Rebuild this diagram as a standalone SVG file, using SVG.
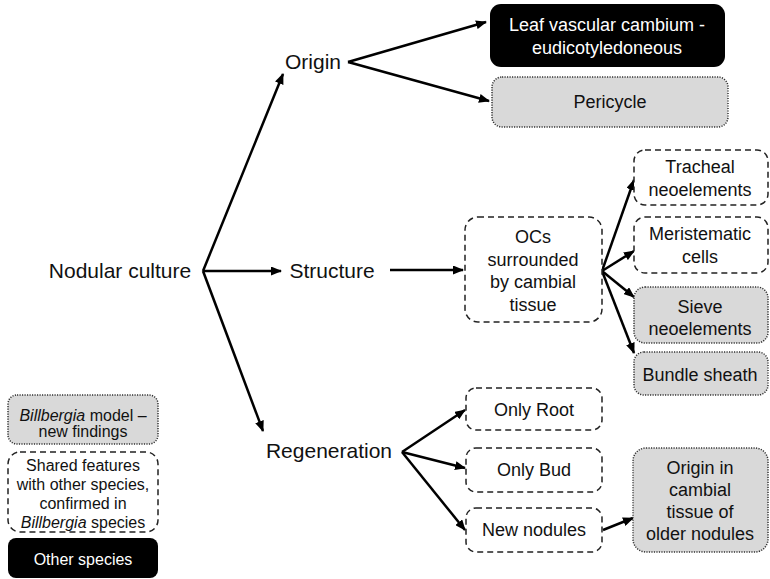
<svg xmlns="http://www.w3.org/2000/svg" width="770" height="579" viewBox="0 0 770 579">
<defs>
<marker id="ah" markerUnits="userSpaceOnUse" markerWidth="11" markerHeight="9" refX="10" refY="4.5" orient="auto">
<path d="M0,0 L11,4.5 L0,9 z" fill="#000"/>
</marker>
<style>
text{font-family:"Liberation Sans",Arial,sans-serif;fill:#111;text-anchor:middle}
.big{font-size:21px}
.n{font-size:18px}
.lg{font-size:16px}
.wt{fill:#fff}
.blk{fill:#000;stroke:none}
.dash{fill:#fff;stroke:#222;stroke-width:1.5;stroke-dasharray:6 4}
.dot{fill:#d9d9d9;stroke:#333;stroke-width:1.5;stroke-dasharray:1.2 1.3}
.c{fill:none;stroke:#000;stroke-width:2.5}
.a{marker-end:url(#ah)}
</style>
</defs>
<rect width="770" height="579" fill="#fff"/>

<g id="connectors">
<line class="c a" x1="203" y1="271" x2="283" y2="74"/>
<line class="c a" x1="203" y1="271" x2="281" y2="271"/>
<line class="c a" x1="203" y1="271" x2="263" y2="431"/>
<line class="c a" x1="348" y1="62" x2="486" y2="22"/>
<line class="c a" x1="348" y1="62" x2="489" y2="101"/>
<line class="c a" x1="390" y1="270" x2="463" y2="270"/>
<line class="c a" x1="602" y1="271" x2="634" y2="180"/>
<line class="c a" x1="602" y1="271" x2="634" y2="251"/>
<line class="c a" x1="602" y1="271" x2="634" y2="297"/>
<line class="c a" x1="602" y1="271" x2="634" y2="353"/>
<line class="c a" x1="402" y1="452" x2="465" y2="410"/>
<line class="c a" x1="402" y1="452" x2="465" y2="468"/>
<line class="c a" x1="402" y1="452" x2="465" y2="530"/>
<line class="c a" x1="603" y1="530" x2="633" y2="518"/>
</g>

<g id="nodular"><text class="big" x="120" y="278">Nodular culture</text></g>
<g id="origin"><text class="big" x="313" y="69">Origin</text></g>
<g id="structure"><text class="big" x="332" y="278">Structure</text></g>
<g id="regeneration"><text class="big" x="329" y="458">Regeneration</text></g>

<g id="leaf">
<rect class="blk" x="490" y="4" width="235" height="63" rx="11"/>
<text class="n wt" x="607" y="31">Leaf vascular cambium -</text>
<text class="n wt" x="607" y="54">eudicotyledoneous</text>
</g>
<g id="pericycle">
<rect class="dot" x="492" y="77" width="236" height="50" rx="10"/>
<text class="n" x="610" y="108">Pericycle</text>
</g>

<g id="ocs">
<rect class="dash" x="465" y="217" width="137" height="105" rx="13"/>
<text class="n" x="533" y="243">OCs</text>
<text class="n" x="533" y="266">surrounded</text>
<text class="n" x="533" y="288">by cambial</text>
<text class="n" x="533" y="311">tissue</text>
</g>

<g id="tracheal">
<rect class="dash" x="634" y="150" width="134" height="55" rx="11"/>
<text class="n" x="700" y="173">Tracheal</text>
<text class="n" x="700" y="196">neoelements</text>
</g>
<g id="meristematic">
<rect class="dash" x="634" y="217" width="134" height="56" rx="11"/>
<text class="n" x="700" y="240">Meristematic</text>
<text class="n" x="700" y="263">cells</text>
</g>
<g id="sieve">
<rect class="dot" x="634" y="287" width="134" height="56" rx="11"/>
<text class="n" x="700" y="313">Sieve</text>
<text class="n" x="700" y="335">neoelements</text>
</g>
<g id="bundle">
<rect class="dot" x="634" y="352" width="134" height="43" rx="10"/>
<text class="n" x="700" y="381">Bundle sheath</text>
</g>

<g id="onlyroot">
<rect class="dash" x="466" y="388" width="136" height="42" rx="10"/>
<text class="n" x="534" y="416">Only Root</text>
</g>
<g id="onlybud">
<rect class="dash" x="466" y="448" width="136" height="44" rx="10"/>
<text class="n" x="534" y="476">Only Bud</text>
</g>
<g id="newnodules">
<rect class="dash" x="466" y="508" width="136" height="44" rx="10"/>
<text class="n" x="534" y="536">New nodules</text>
</g>
<g id="origincambial">
<rect class="dot" x="633" y="448" width="135" height="104" rx="13"/>
<text class="n" x="700" y="474">Origin in</text>
<text class="n" x="700" y="496">cambial</text>
<text class="n" x="700" y="518">tissue of</text>
<text class="n" x="700" y="540">older nodules</text>
</g>

<g id="legend-new">
<rect class="dot" x="8" y="395" width="150" height="49" rx="9"/>
<text class="lg" x="83" y="421"><tspan font-style="italic">Billbergia</tspan> model –</text>
<text class="lg" x="83" y="437">new findings</text>
</g>
<g id="legend-shared">
<rect class="dash" x="8" y="452" width="150" height="80" rx="12"/>
<text class="lg" x="83" y="471">Shared features</text>
<text class="lg" x="83" y="490">with other species,</text>
<text class="lg" x="83" y="509">confirmed in</text>
<text class="lg" x="83" y="528"><tspan font-style="italic">Billbergia</tspan> species</text>
</g>
<g id="legend-other">
<rect class="blk" x="8" y="538" width="150" height="40" rx="8"/>
<text class="lg wt" x="83" y="565">Other species</text>
</g>
</svg>
